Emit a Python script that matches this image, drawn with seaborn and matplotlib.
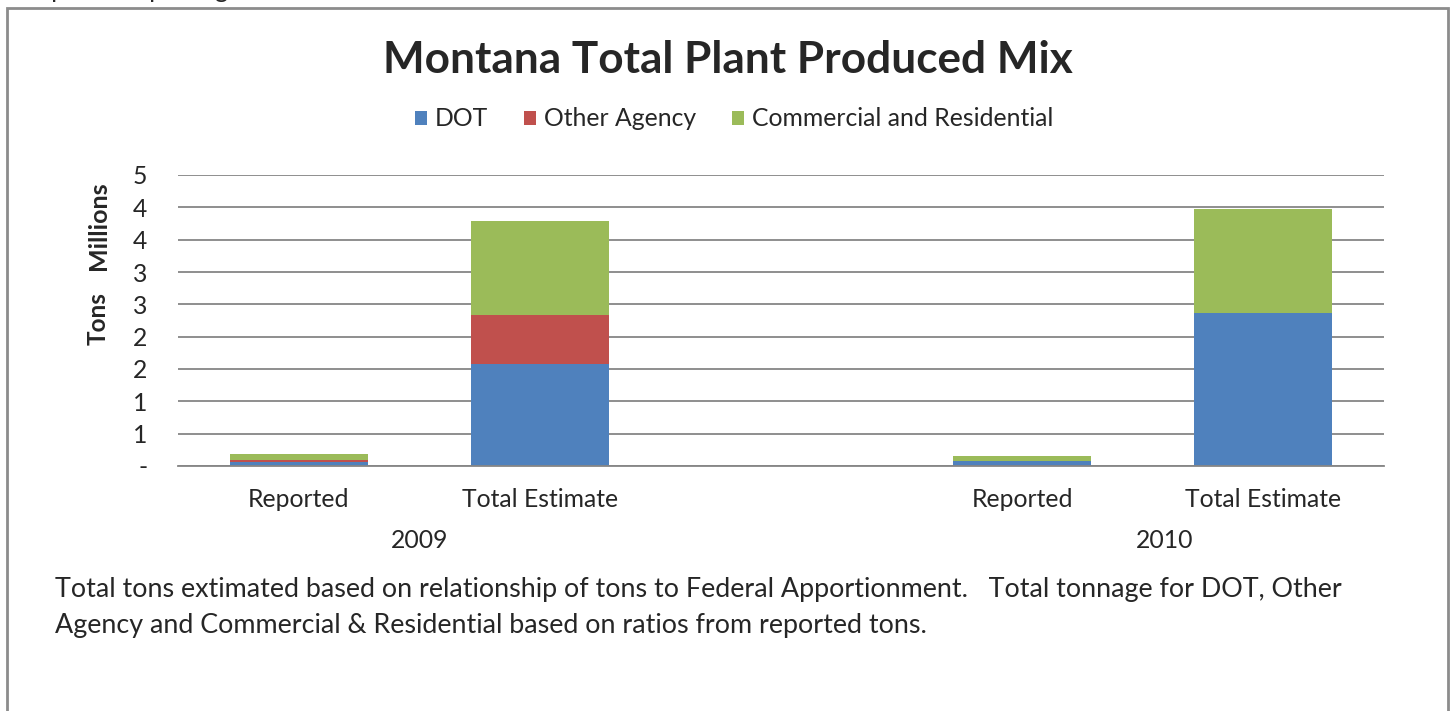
import matplotlib
matplotlib.use("Agg")
import matplotlib.pyplot as plt
import seaborn as sns
import pandas as pd
from matplotlib.patches import Patch, Rectangle

# values in millions of tons
years = ["2009", "2009", "2010", "2010"]
kinds = ["Reported", "Total Estimate", "Reported", "Total Estimate"]
dot = [0.06, 1.58, 0.08, 2.37]
other_agency = [0.04, 0.76, 0.0, 0.0]
commercial = [0.08, 1.45, 0.07, 1.61]

y_ticks = [0, 0.5, 1.0, 1.5, 2.0, 2.5, 3.0, 3.5, 4.0, 4.5]
y_tick_labels = ["-", "1", "1", "2", "2", "3", "3", "4", "4", "5"]

series_names = ["DOT", "Other Agency", "Commercial and Residential"]
colors = ["#4F81BD", "#C0504D", "#9BBB59"]

FONT = ["Lato", "DejaVu Sans"]
FS = 17.8

sns.set_theme(style="white")
plt.rcParams["font.family"] = FONT

df = pd.DataFrame({"year": years, "kind": kinds, "DOT": dot,
                   "Other Agency": other_agency, "Commercial and Residential": commercial})
df["slot"] = df["year"] + "|" + df["kind"]
df["lvl1"] = df["DOT"]
df["lvl2"] = df["lvl1"] + df["Other Agency"]
df["lvl3"] = df["lvl2"] + df["Commercial and Residential"]

# empty slot between the two years
order = ["2009|Reported", "2009|Total Estimate", "gap", "2010|Reported", "2010|Total Estimate"]

fig = plt.figure(figsize=(14.52, 7.11), dpi=100)
ax = fig.add_axes([178 / 1452, 1 - 466 / 711, (1384 - 178) / 1452, (466 - 175) / 711])

# stacked bars drawn as cumulative layers, tallest first
for col, c in zip(["lvl3", "lvl2", "lvl1"], colors[::-1]):
    sns.barplot(data=df, x="slot", y=col, order=order, color=c, width=0.572,
                saturation=1, edgecolor="none", linewidth=0, ax=ax, errorbar=None)

ax.set_xlim(-0.5, 4.5)
ax.set_ylim(0, 4.5)
ax.set_yticks(y_ticks)
ax.set_yticklabels(y_tick_labels, fontsize=FS)
ax.yaxis.grid(True, color="#868686", linewidth=1.3)
ax.set_axisbelow(True)
for s in ["left", "right", "top"]:
    ax.spines[s].set_visible(False)
ax.spines["bottom"].set_color("#868686")
ax.spines["bottom"].set_linewidth(1.3)
ax.tick_params(axis="y", length=0, pad=22)
ax.tick_params(axis="x", length=0, pad=16)
ax.set_xticks([0, 1, 3, 4])
ax.set_xticklabels(["Reported", "Total Estimate", "Reported", "Total Estimate"], fontsize=FS)
ax.set_xlabel("")
ax.set_ylabel("")

# year labels under the category labels
ax.text(0.5, -0.256, "2009", transform=ax.get_xaxis_transform(), ha="center", va="center", fontsize=FS)
ax.text(3.59, -0.256, "2010", transform=ax.get_xaxis_transform(), ha="center", va="center", fontsize=FS)

fig.text(98 / 1452, 1 - 319 / 711, "Tons", rotation=90, ha="center", va="center",
         fontsize=17.5, fontweight="bold")
fig.text(98 / 1452, 1 - 226 / 711, "Millions", rotation=90, ha="center", va="center",
         fontsize=18, fontweight="bold")

fig.text(728 / 1452, 1 - 60 / 711, "Montana Total Plant Produced Mix", ha="center", va="center",
         fontsize=31.8, fontweight="bold")

handles = [Patch(facecolor=c, edgecolor="none") for c in colors]
fig.legend(handles, series_names, loc="center", bbox_to_anchor=(734 / 1452, 1 - 119 / 711),
           ncol=3, frameon=False, fontsize=FS, handlelength=0.5, handleheight=0.5,
           handletextpad=0.3, columnspacing=1.45)

fig.text(55 / 1452, 1 - 589 / 711,
         "Total tons extimated based on relationship of tons to Federal Apportionment.   "
         "Total tonnage for DOT, Other", ha="left", va="center", fontsize=19.4)
fig.text(55 / 1452, 1 - 625 / 711,
         "Agency and Commercial & Residential based on ratios from reported tons.",
         ha="left", va="center", fontsize=19.4)

# cut-off line of text above the chart box
fig.text(0 / 1452, 1 + 10 / 711, "Compared Reporting", ha="left", va="center", fontsize=18)

# chart border
fig.patches.append(Rectangle((7 / 1452, -0.05), (1448 - 7) / 1452, 1.05 - 8 / 711,
                             transform=fig.transFigure, fill=False, edgecolor="#8c8c8c",
                             linewidth=2))

fig.savefig("out.png", dpi=100)
